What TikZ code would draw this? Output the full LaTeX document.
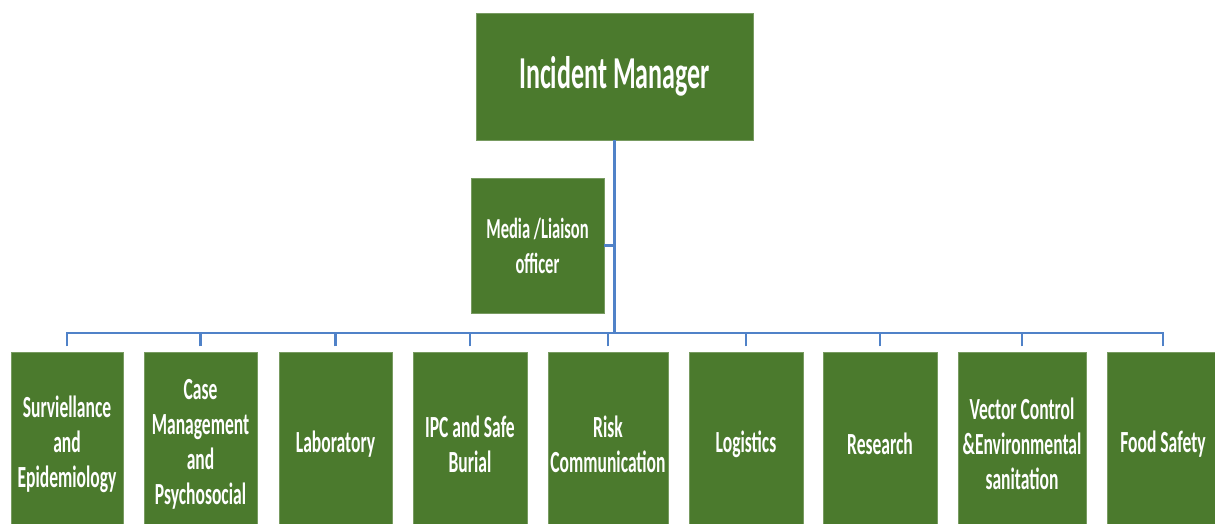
\documentclass[tikz,border=0pt]{standalone}
\usepackage{fontspec}
\setmainfont{Carlito}[FakeStretch=0.57]
\usepackage{tikz}
\usetikzlibrary{calc}

\definecolor{boxgreen}{HTML}{4B7A2D}
\definecolor{linkblue}{HTML}{5082C8}

\tikzset{
  unitbox/.style={draw=boxgreen!75!white, line width=0.4pt, fill=boxgreen, text=white,
    font=\bfseries, align=center, inner sep=0pt},
  link/.style={linkblue, line width=1.3pt}
}

\begin{document}
\begin{tikzpicture}[x=0.02cm, y=-0.02cm]
    \useasboundingbox (0,0) rectangle (1215,524);

    \node[unitbox, minimum width=5.54cm, minimum height=2.54cm, font=\bfseries\fontsize{26}{30}\selectfont] (im) at (614.5,76.5) {Incident Manager};
    \node[unitbox, minimum width=2.66cm, minimum height=2.7cm, font=\bfseries\fontsize{16.5}{19.9}\selectfont] (media) at (537.5,245.5) {Media /Liaison\\officer};

    \coordinate (bus) at (614.5,333);

	\foreach \n/\x/\w/\t in {1/67/2.24/{Surviellance\\and\\Epidemiology},
                             2/200.5/2.26/{Case\\Management\\and\\Psychosocial},
                             3/335.5/2.26/{Laboratory},
                             4/470/2.28/{IPC and Safe\\Burial},
                             5/608/2.40/{Risk\\Communication},
                             6/746/2.28/{Logistics},
                             7/880/2.28/{Research},
                             8/1022/2.56/{Vector Control\\\&Environmental\\sanitation},
                             9/1163/2.24/{Food Safety}} {
      \node[unitbox, minimum width=\w cm, minimum height=3.68cm, font=\bfseries\fontsize{17.5}{19.9}\selectfont] (b\n) at (\x,444) {\t};
      \draw[link, shorten <=3pt] (b\n.north) |- (bus);
    }

    \draw[link] (im.south) -- (bus);
    \draw[link] (media.east) -- (media.east -| im.south);
  \end{tikzpicture}
\end{document}
